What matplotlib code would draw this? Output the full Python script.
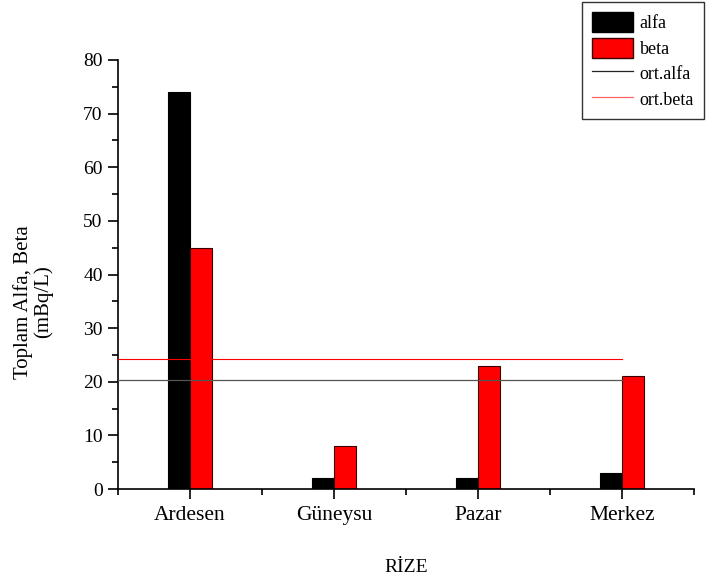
import matplotlib
matplotlib.use("Agg")
import matplotlib.pyplot as plt
from matplotlib.ticker import MultipleLocator, FixedLocator
from matplotlib.patches import Patch
from matplotlib.lines import Line2D
import numpy as np

plt.rcParams['font.family'] = ['Liberation Serif', 'DejaVu Serif']

locations = ["Ardesen", "Güneysu", "Pazar", "Merkez"]
alfa = [74, 2, 2, 3]
beta = [45, 8, 23, 21]
ort_alfa = np.mean(alfa)
ort_beta = np.mean(beta)

W, H = 708, 584
fig = plt.figure(figsize=(W / 100, H / 100), dpi=100)
ax = fig.add_axes([118 / W, 1 - 489 / H, (694 - 118) / W, (489 - 60) / H])

x = np.arange(len(locations))
bw = 0.15
ax.bar(x - bw / 2, alfa, width=bw, color="black", edgecolor="black", linewidth=0.8, zorder=2)
ax.bar(x + bw / 2, beta, width=bw, color="#ff0000", edgecolor="#3a0000", linewidth=0.8, zorder=2)

ax.plot([-0.5, x[-1]], [ort_alfa, ort_alfa], color="#555555", linewidth=0.9, zorder=3)
ax.plot([-0.5, x[-1]], [ort_beta, ort_beta], color="#ff0000", linewidth=0.8, zorder=3)

ax.set_xlim(-0.5, 3.5)
ax.set_ylim(0, 80)
for s in ("top", "right"):
    ax.spines[s].set_visible(False)
for s in ("left", "bottom"):
    ax.spines[s].set_linewidth(1.2)

ax.set_xticks(x)
ax.set_xticklabels(locations)
ax.xaxis.set_minor_locator(FixedLocator([-0.5, 0.5, 1.5, 2.5, 3.5]))
ax.yaxis.set_major_locator(MultipleLocator(10))
ax.yaxis.set_minor_locator(MultipleLocator(5))
ax.tick_params(axis="both", which="major", direction="out", length=7, width=1.2)
ax.tick_params(axis="both", which="minor", direction="out", length=4, width=1.2)
ax.tick_params(axis="x", which="major", pad=5, labelsize=15.5)
ax.tick_params(axis="y", which="major", pad=4, labelsize=14)

fig.text(33 / W, 1 - 302 / H, "Toplam Alfa, Beta\n(mBq/L)", rotation=90,
         ha="center", va="center", multialignment="center", fontsize=15,
         linespacing=1.05)
fig.text(406 / W, 1 - 568 / H, "RİZE", ha="center", va="center", fontsize=14)

handles = [
    Patch(facecolor="black", edgecolor="black", label="alfa"),
    Patch(facecolor="#ff0000", edgecolor="#3a0000", label="beta"),
    Line2D([], [], color="#222222", linewidth=0.9, label="ort.alfa"),
    Line2D([], [], color="#ff6666", linewidth=0.9, label="ort.beta"),
]
leg = fig.legend(handles=handles, loc="upper right", bbox_to_anchor=(704 / W, 1 - 2 / H),
                 fontsize=13, frameon=True, fancybox=False, edgecolor="black",
                 handlelength=2.3, handleheight=1.35, handletextpad=0.35,
                 labelspacing=0.3, borderpad=0.55, borderaxespad=0)
leg.get_frame().set_linewidth(1.0)

fig.savefig("out.png", dpi=100)
